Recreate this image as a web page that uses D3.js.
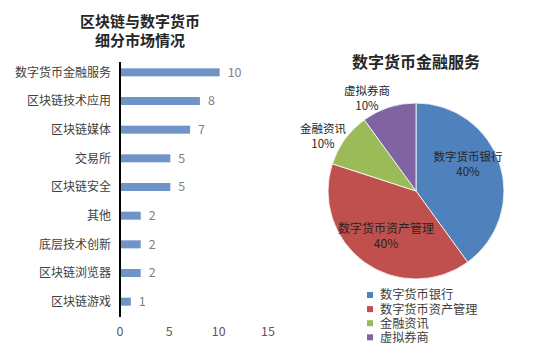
<!DOCTYPE html>
<html><head><meta charset="utf-8">
<script src="https://cdn.jsdelivr.net/npm/d3@7"></script>
<style>body{margin:0;background:#fff;}text{font-family:"Noto Sans CJK SC","Noto Sans",sans-serif;}</style>
</head><body>
<svg id="c" width="550" height="360"></svg>
<script>
const barCategories = ["数字货币金融服务","区块链技术应用","区块链媒体","交易所","区块链安全","其他","底层技术创新","区块链浏览器","区块链游戏"];
const barValues = [10,8,7,5,5,2,2,2,1];
const xTicks = [0,5,10,15];
const pieCategories = ["数字货币银行","数字货币资产管理","金融资讯","虚拟券商"];
const pieValues = [40,40,10,10];
const pieColors = ["#4F81BD","#C0504D","#9BBB59","#8064A2"];

const svg = d3.select("#c");
svg.append("rect").attr("width",550).attr("height",360).attr("fill","#fff");

// Bar chart titles
const t1 = svg.append("text").attr("text-anchor","middle").attr("font-weight","bold").attr("font-size",15).attr("fill","#262626");
t1.append("tspan").attr("x",140).attr("y",27).text("区块链与数字货币");
t1.append("tspan").attr("x",140).attr("y",46).text("细分市场情况");

const x = d3.scaleLinear().domain([0,15]).range([120,268]);
const y = d3.scaleBand().domain(barCategories).range([58,316]).paddingInner(0.72).paddingOuter(0.36);

svg.append("g").selectAll("rect").data(barValues).join("rect")
  .attr("x",x(0)+1).attr("y",(d,i)=>y(barCategories[i]))
  .attr("width",d=>x(d)-x(0)).attr("height",y.bandwidth())
  .attr("fill","#7194c8");

svg.append("g").selectAll("text").data(barValues).join("text")
  .attr("x",d=>x(d)+9).attr("y",(d,i)=>y(barCategories[i])+y.bandwidth()/2)
  .attr("dy","0.35em").attr("font-size",12.5).attr("fill","#7f7f7f").text(d=>d);

svg.append("g").selectAll("text").data(barCategories).join("text")
  .attr("x",111).attr("y",d=>y(d)+y.bandwidth()/2).attr("dy","0.35em")
  .attr("text-anchor","end").attr("font-size",12).attr("fill","#404040").text(d=>d);

svg.append("line").attr("x1",x(0)).attr("x2",x(0)).attr("y1",62).attr("y2",317).attr("stroke","#000").attr("stroke-width",2);

svg.append("g").selectAll("text").data(xTicks).join("text")
  .attr("x",d=>x(d)).attr("y",332).attr("dy","0.35em").attr("text-anchor","middle")
  .attr("font-size",12.5).attr("fill","#595959").text(d=>d);

// Pie
svg.append("text").attr("x",416).attr("y",68).attr("text-anchor","middle").attr("font-weight","bold")
  .attr("font-size",16).attr("fill","#262626").text("数字货币金融服务");

const cx=416, cy=191, r=88;
const pie = d3.pie().sort(null).value(d=>d);
const arc = d3.arc().innerRadius(0).outerRadius(r);
const g = svg.append("g").attr("transform",`translate(${cx},${cy})`);
g.selectAll("path").data(pie(pieValues)).join("path")
  .attr("d",arc).attr("fill",(d,i)=>pieColors[i]).attr("stroke","#fff").attr("stroke-width",0.8);

const labelPos = [[52,-30],[-30,42],[-93,-58],[-49,-96]];
const labelSize = [11.5,12,11.5,11.5];
const lbl = g.selectAll("text.l").data(pieValues).join("text").attr("class","l")
  .attr("text-anchor","middle").attr("font-size",(d,i)=>labelSize[i]).attr("fill","#262626");
lbl.append("tspan").attr("x",(d,i)=>labelPos[i][0]).attr("y",(d,i)=>labelPos[i][1]).text((d,i)=>pieCategories[i]);
lbl.append("tspan").attr("x",(d,i)=>labelPos[i][0]).attr("y",(d,i)=>labelPos[i][1]+14.5).text(d=>d+"%");

const leg = svg.append("g").selectAll("g").data(pieCategories).join("g")
  .attr("transform",(d,i)=>`translate(367,${295+i*14.1})`);
leg.append("rect").attr("y",-3).attr("width",6).attr("height",6).attr("fill",(d,i)=>pieColors[i]);
leg.append("text").attr("x",13).attr("y",0).attr("dy","0.36em").attr("font-size",12.2).attr("fill","#404040").text(d=>d);
</script>
</body></html>
